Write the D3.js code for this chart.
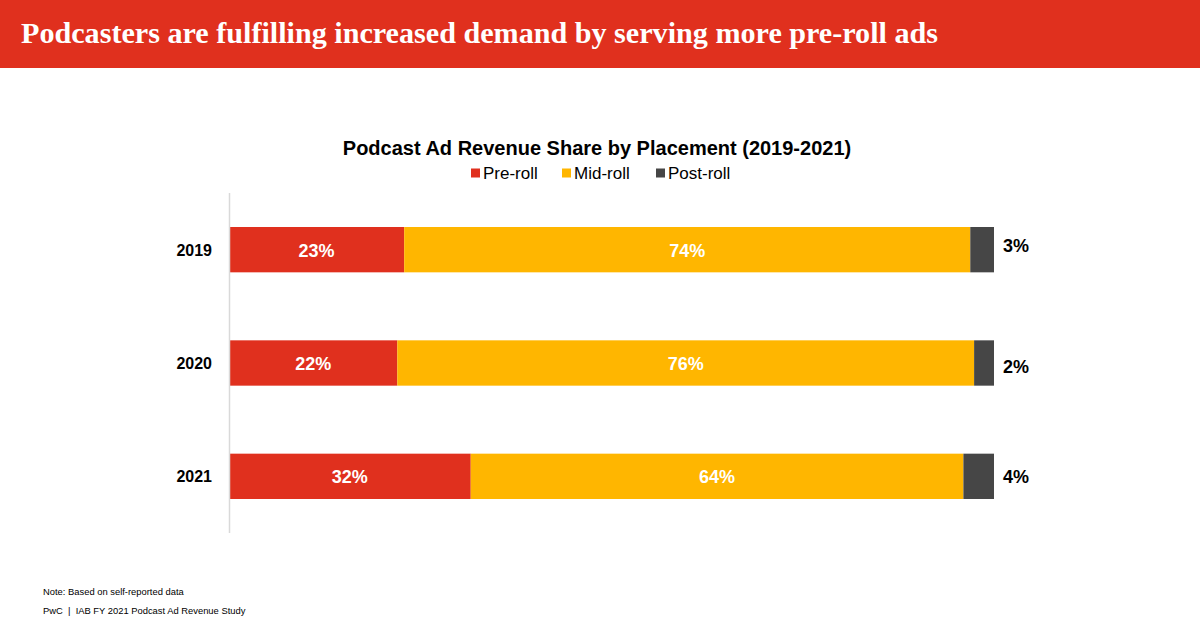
<!DOCTYPE html>
<html><head><meta charset="utf-8">
<script src="https://cdn.jsdelivr.net/npm/d3@7"></script>
<style>body{margin:0;background:#fff}svg{display:block}</style>
</head><body>
<script>
const years = ["2019", "2020", "2021"];
const preRoll = [22.9, 22.0, 31.6];
const midRoll = [74.0, 75.4, 64.4];
const postRoll = [3.1, 2.6, 4.0];
const preLabels = ["23%", "22%", "32%"];
const midLabels = ["74%", "76%", "64%"];
const postLabels = ["3%", "2%", "4%"];
const seriesNames = ["Pre-roll", "Mid-roll", "Post-roll"];
const colors = ["#E0301E", "#FFB600", "#464646"];

const W = 1200, H = 640;
const svg = d3.select("body").append("svg").attr("width", W).attr("height", H);

svg.append("rect").attr("x", 0).attr("y", 0).attr("width", W).attr("height", 68).attr("fill", "#E0301E");
svg.append("text").attr("x", 21).attr("y", 43)
  .attr("font-family", "'Liberation Serif', 'Times New Roman', serif").attr("font-weight", "bold")
  .attr("font-size", 29).attr("fill", "#fff")
  .attr("textLength", 917).attr("lengthAdjust", "spacingAndGlyphs")
  .text("Podcasters are fulfilling increased demand by serving more pre-roll ads");

svg.append("text").attr("x", 597).attr("y", 155).attr("text-anchor", "middle")
  .attr("font-family", "Arial, 'Liberation Sans', sans-serif").attr("font-weight", "bold")
  .attr("font-size", 20).attr("fill", "#000")
  .text("Podcast Ad Revenue Share by Placement (2019-2021)");

// legend
const legendX = [471, 562, 656];
const lg = svg.append("g");
seriesNames.forEach((n, i) => {
  lg.append("rect").attr("x", legendX[i]).attr("y", 168.5).attr("width", 9).attr("height", 9).attr("fill", colors[i]);
  lg.append("text").attr("x", legendX[i] + 12).attr("y", 179)
    .attr("font-family", "Arial, 'Liberation Sans', sans-serif").attr("font-size", 17).attr("fill", "#000").text(n);
});

const x = d3.scaleLinear().domain([0, 100]).range([229, 994]);
const y = d3.scaleBand().domain(years).range([193, 533]).paddingInner(0.6).paddingOuter(0.3);

const rows = years.map((yr, i) => ({year: yr, vals: [preRoll[i], midRoll[i], postRoll[i]]}));
const stack = d3.stack().keys([0, 1, 2]).value((d, k) => d.vals[k]);
const stacked = stack(rows);

stacked.forEach((layer, k) => {
  svg.append("g").selectAll("rect").data(layer).join("rect")
    .attr("x", d => x(d[0])).attr("width", d => x(d[1]) - x(d[0]))
    .attr("y", d => y(d.data.year)).attr("height", y.bandwidth())
    .attr("fill", colors[k]);
});

// axis line
svg.append("line").attr("x1", 229.5).attr("x2", 229.5).attr("y1", 193).attr("y2", 533)
  .attr("stroke", "#D9D9D9").attr("stroke-width", 1.5);

// year labels
svg.append("g").selectAll("text").data(years).join("text")
  .attr("x", 212).attr("y", d => y(d) + y.bandwidth() / 2 + 6).attr("text-anchor", "end")
  .attr("font-family", "Arial, 'Liberation Sans', sans-serif").attr("font-weight", "bold")
  .attr("font-size", 16).attr("fill", "#000").text(d => d);

// inside labels
const inLabels = [preLabels, midLabels];
[0, 1].forEach(k => {
  svg.append("g").selectAll("text").data(stacked[k]).join("text")
    .attr("x", d => (x(d[0]) + x(d[1])) / 2).attr("y", (d, i) => y(years[i]) + y.bandwidth() / 2 + 7)
    .attr("text-anchor", "middle")
    .attr("font-family", "Arial, 'Liberation Sans', sans-serif").attr("font-weight", "bold")
    .attr("font-size", 18).attr("fill", "#fff").text((d, i) => inLabels[k][i]);
});

// post-roll labels
const postOffsets = [2, 10, 7];
svg.append("g").selectAll("text").data(years).join("text")
  .attr("x", 1003).attr("y", (d, i) => y(d) + y.bandwidth() / 2 + postOffsets[i])
  .attr("font-family", "Arial, 'Liberation Sans', sans-serif").attr("font-weight", "bold")
  .attr("font-size", 18).attr("fill", "#000").text((d, i) => postLabels[i]);

// footer
svg.append("text").attr("x", 43).attr("y", 595)
  .attr("font-family", "Arial, 'Liberation Sans', sans-serif").attr("font-size", 9.4).attr("fill", "#000")
  .text("Note: Based on self-reported data");
svg.append("text").attr("x", 43).attr("y", 614)
  .attr("font-family", "Arial, 'Liberation Sans', sans-serif").attr("font-size", 9.4).attr("fill", "#000")
  .style("white-space", "pre")
  .text("PwC  |  IAB FY 2021 Podcast Ad Revenue Study");
</script>
</body></html>
